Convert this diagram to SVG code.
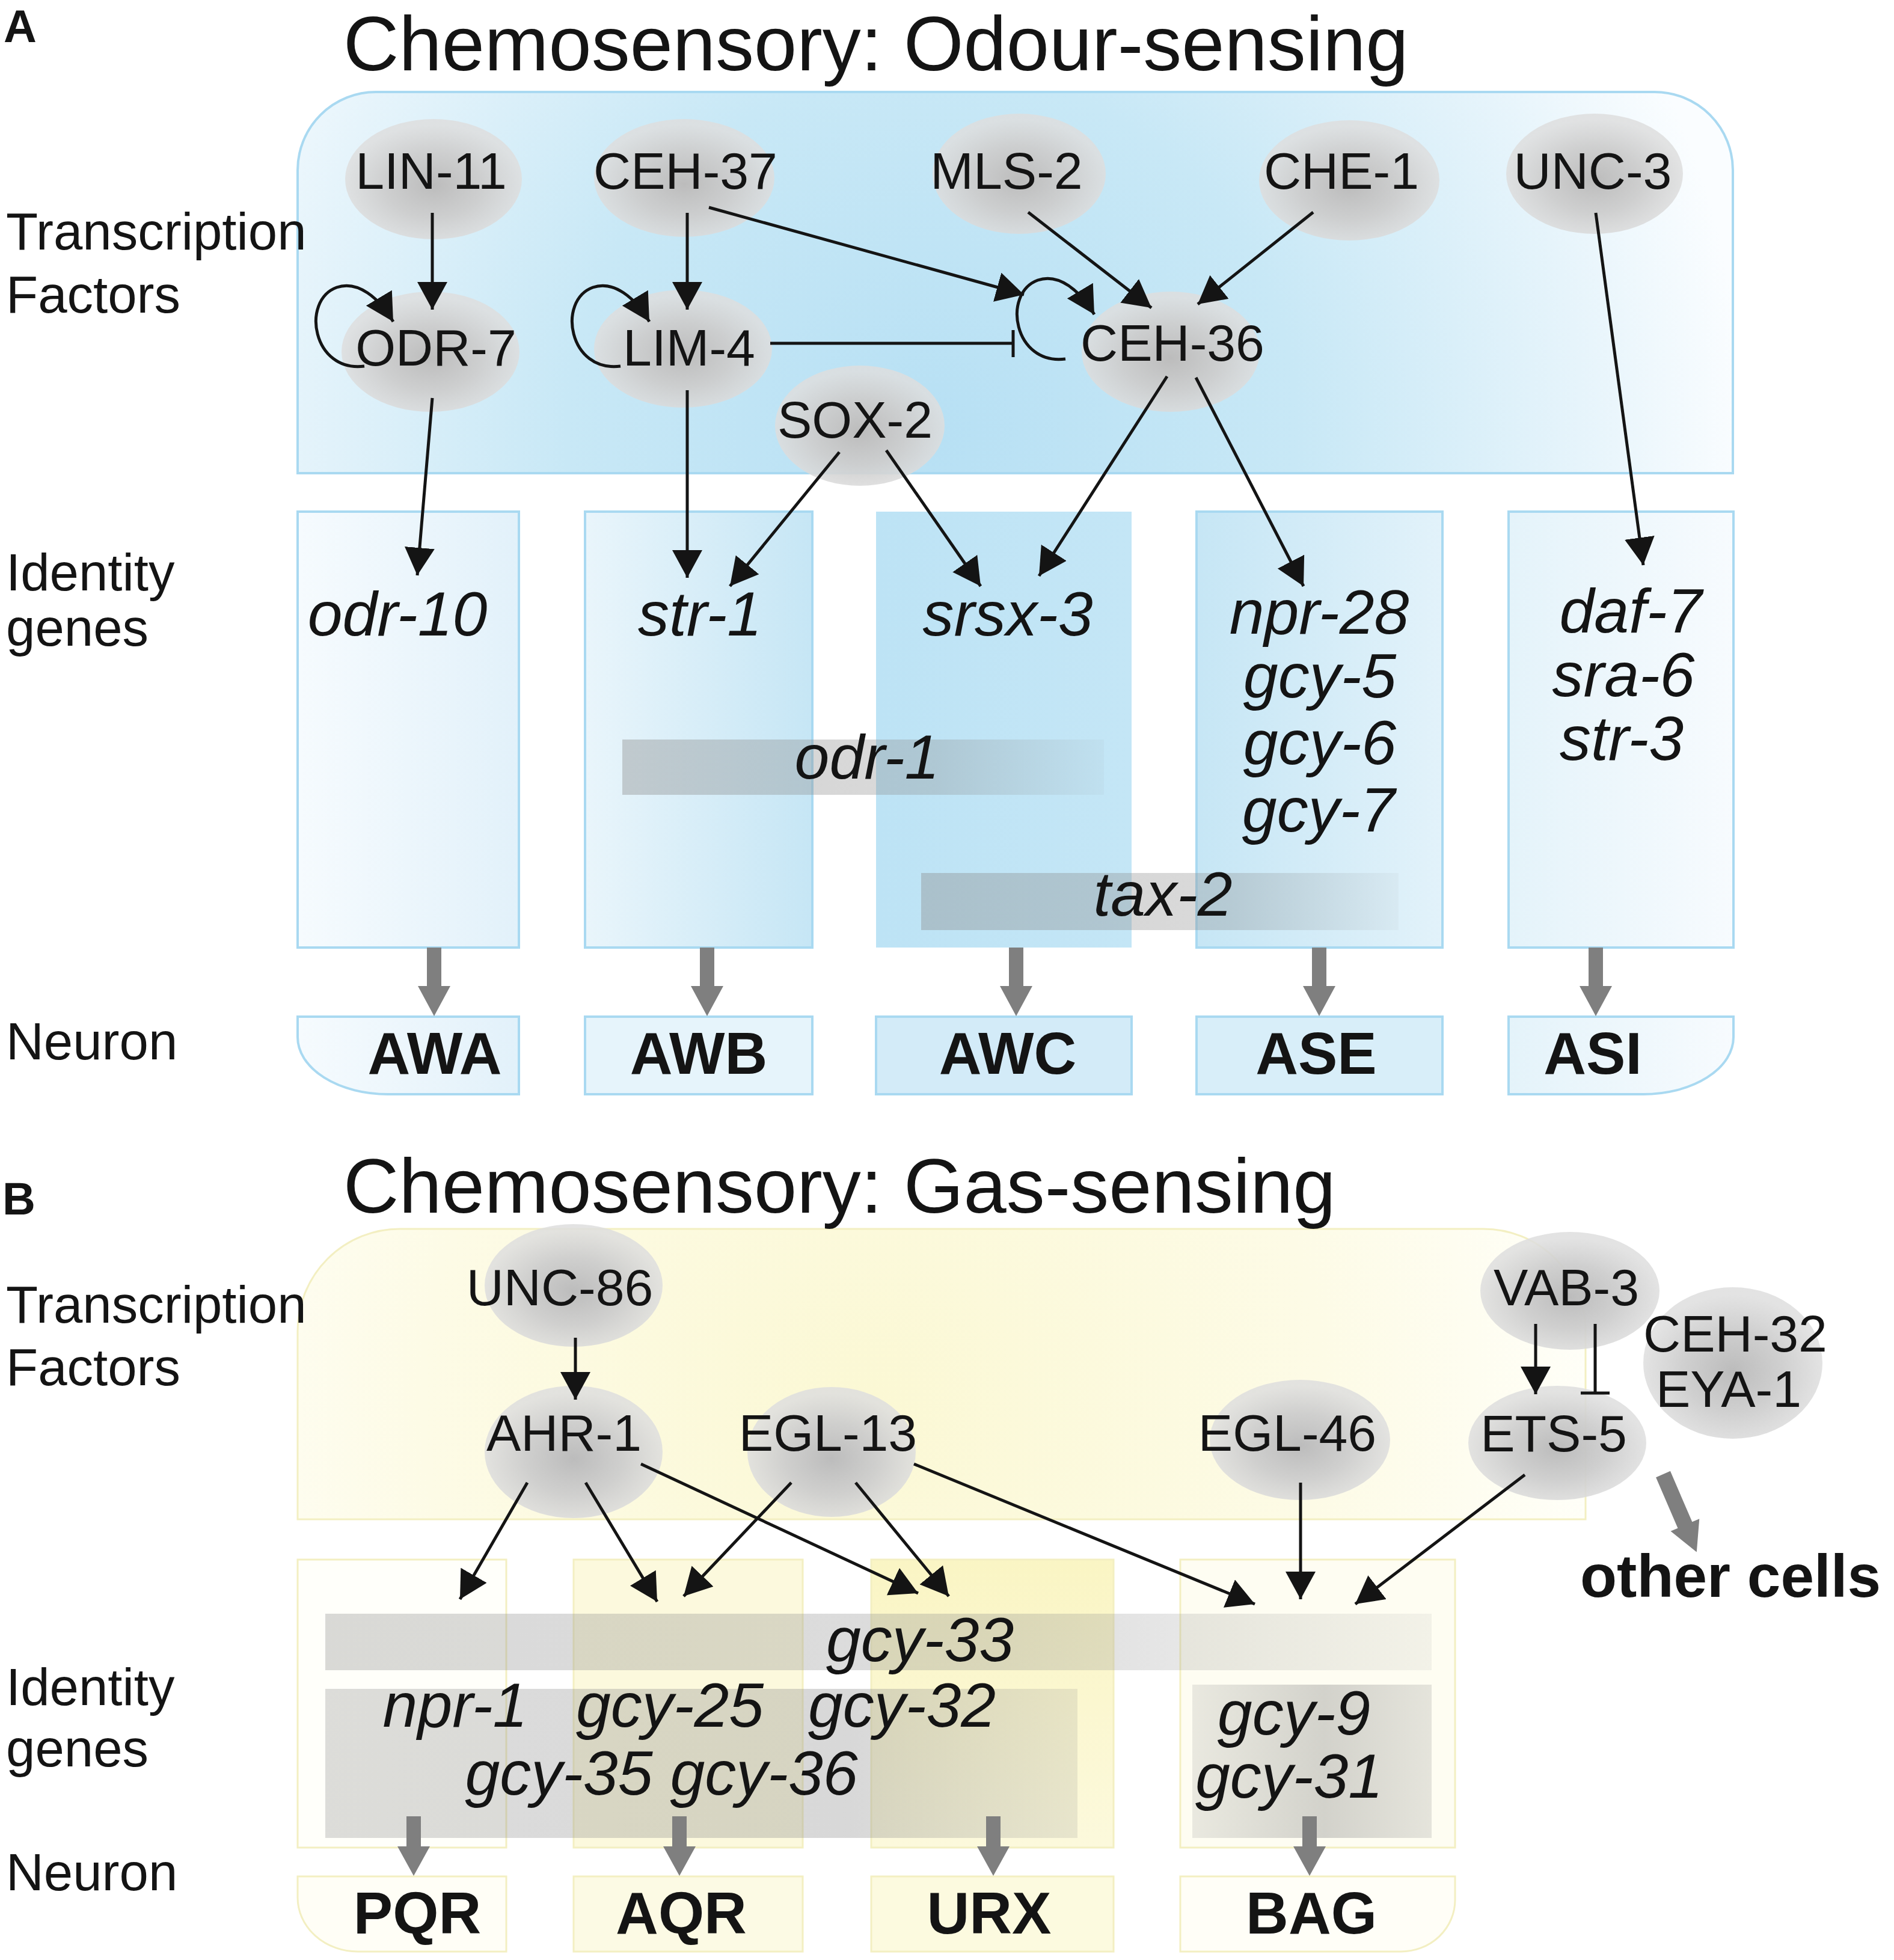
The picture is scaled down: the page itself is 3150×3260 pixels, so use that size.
<svg xmlns="http://www.w3.org/2000/svg" width="3150" height="3260" viewBox="0 0 3150 3260">
<style>
.t{font-family:"Liberation Sans",Arial,sans-serif;fill:#141414}
.tf{font-size:86px;text-anchor:middle}
.row{font-size:87px}
.gene{font-size:104px;font-style:italic;text-anchor:middle}
.neu{font-size:98px;font-weight:bold;text-anchor:middle}
.title{font-size:128px}
.panel{font-size:76px;font-weight:bold}
.edge{stroke:#141414;stroke-width:5;fill:none}
.arr{marker-end:url(#ah)}
.bA{stroke:#a9d9f1;stroke-width:4}
.bB{stroke:#f3efc2;stroke-width:3}
.gbar{stroke:none}
.garrow{fill:#7f7f7f}
</style>
<defs>
<marker id="ah" viewBox="0 0 46 50" refX="46" refY="25" markerWidth="46" markerHeight="50" markerUnits="userSpaceOnUse" orient="auto">
<path d="M0,0 L46,25 L0,50 Z" fill="#141414"/>
</marker>
<radialGradient id="tfg" cx="50%" cy="55%" r="50%">
<stop offset="0" stop-color="#bcbcbc" stop-opacity="1"/>
<stop offset="0.55" stop-color="#cdcdcd" stop-opacity="0.95"/>
<stop offset="1" stop-color="#dedede" stop-opacity="0.85"/>
</radialGradient>
<radialGradient id="topA" gradientUnits="userSpaceOnUse" cx="1550" cy="720" r="1350">
<stop offset="0" stop-color="#b7e0f4"/>
<stop offset="0.45" stop-color="#c8e8f6"/>
<stop offset="0.8" stop-color="#e6f4fb"/>
<stop offset="1" stop-color="#fafdff"/>
</radialGradient>
<radialGradient id="topB" gradientUnits="userSpaceOnUse" cx="1450" cy="2330" r="1250">
<stop offset="0" stop-color="#fbf8d4"/>
<stop offset="0.6" stop-color="#fdfbe6"/>
<stop offset="1" stop-color="#fffffa"/>
</radialGradient>
<linearGradient id="cAWA" x1="0" x2="1" y1="0" y2="0"><stop offset="0" stop-color="#f6fbfe"/><stop offset="1" stop-color="#e2f1fa"/></linearGradient>
<linearGradient id="cAWB" x1="0" x2="1" y1="0" y2="0"><stop offset="0" stop-color="#e9f5fb"/><stop offset="1" stop-color="#c6e6f5"/></linearGradient>
<linearGradient id="cAWC" x1="0" x2="1" y1="0" y2="0"><stop offset="0" stop-color="#bde3f5"/><stop offset="1" stop-color="#c4e6f6"/></linearGradient>
<linearGradient id="cASE" x1="0" x2="1" y1="0" y2="0"><stop offset="0" stop-color="#c6e6f5"/><stop offset="1" stop-color="#e2f2fa"/></linearGradient>
<linearGradient id="cASI" x1="0" x2="1" y1="0" y2="0"><stop offset="0" stop-color="#e4f3fa"/><stop offset="1" stop-color="#f7fbfe"/></linearGradient>
<linearGradient id="cURX" x1="0" x2="0" y1="0" y2="1"><stop offset="0" stop-color="#faf5c4"/><stop offset="1" stop-color="#fcf9dc"/></linearGradient>
<linearGradient id="barFade" x1="0" x2="1" y1="0" y2="0"><stop offset="0" stop-color="#8c8c8c" stop-opacity="0.4"/><stop offset="0.65" stop-color="#8c8c8c" stop-opacity="0.32"/><stop offset="1" stop-color="#8c8c8c" stop-opacity="0.06"/></linearGradient>
<linearGradient id="bar33" x1="0" x2="1" y1="0" y2="0"><stop offset="0" stop-color="#8c8c8c" stop-opacity="0.33"/><stop offset="0.6" stop-color="#8c8c8c" stop-opacity="0.3"/><stop offset="1" stop-color="#8c8c8c" stop-opacity="0.1"/></linearGradient>
<linearGradient id="bar2" x1="0" x2="1" y1="0" y2="0"><stop offset="0" stop-color="#8c8c8c" stop-opacity="0.3"/><stop offset="0.7" stop-color="#8c8c8c" stop-opacity="0.34"/><stop offset="1" stop-color="#8c8c8c" stop-opacity="0.18"/></linearGradient>
<linearGradient id="barBAG" x1="0" x2="1" y1="0" y2="0"><stop offset="0" stop-color="#8c8c8c" stop-opacity="0.18"/><stop offset="0.55" stop-color="#8c8c8c" stop-opacity="0.38"/><stop offset="1" stop-color="#8c8c8c" stop-opacity="0.22"/></linearGradient>
<path id="gA" d="M-12,0 H12 V64 H27 L0,114 L-27,64 H-12 Z"/>
<path id="gB" d="M-12,0 H12 V50 H27 L0,99 L-27,50 H-12 Z"/>
<path id="loop" d="M0,0 C-86,11 -106,-109 -46,-131 C-11,-143 24,-114 48,-74"/>
</defs>
<rect width="3150" height="3260" fill="#ffffff"/>

<!-- ================= PANEL A ================= -->
<g id="A-tf-box">
<path class="bA" d="M495,787 V283 A130,130 0 0 1 625,153 H2752 A130,130 0 0 1 2882,283 V787 Z" fill="url(#topA)"/>
</g>

<g id="A-columns">
<rect id="col-AWA" class="bA" x="495" y="851" width="368" height="725" fill="url(#cAWA)"/>
<rect id="col-AWB" class="bA" x="973" y="851" width="378" height="725" fill="url(#cAWB)"/>
<rect id="col-AWC" x="1457" y="851" width="425" height="725" fill="url(#cAWC)"/>
<rect id="col-ASE" class="bA" x="1990" y="851" width="409" height="725" fill="url(#cASE)"/>
<rect id="col-ASI" class="bA" x="2509" y="851" width="374" height="725" fill="url(#cASI)"/>
</g>

<g id="A-bars">
<rect id="bar-odr1" class="gbar" x="1035" y="1230" width="801" height="92" fill="url(#barFade)"/>
<rect id="bar-tax2" class="gbar" x="1532" y="1452" width="794" height="95" fill="url(#barFade)"/>
</g>

<g id="panelA-labels">
<text class="t panel" x="6" y="70">A</text>
<text class="t title" x="571" y="117">Chemosensory: Odour-sensing</text>
<text class="t row" x="10" y="415">Transcription</text>
<text class="t row" x="10" y="520">Factors</text>
<text class="t row" x="10" y="982">Identity</text>
<text class="t row" x="10" y="1074">genes</text>
<text class="t row" x="10" y="1762">Neuron</text>
</g>

<g id="A-genes">
<text class="t gene" x="661" y="1057">odr-10</text>
<text class="t gene" x="1164" y="1057">str-1</text>
<text class="t gene" x="1676" y="1057">srsx-3</text>
<text class="t gene" x="2194" y="1054">npr-28</text>
<text class="t gene" x="2195" y="1160">gcy-5</text>
<text class="t gene" x="2195" y="1271">gcy-6</text>
<text class="t gene" x="2193" y="1383">gcy-7</text>
<text class="t gene" x="2712" y="1052">daf-7</text>
<text class="t gene" x="2700" y="1158">sra-6</text>
<text class="t gene" x="2697" y="1264">str-3</text>
<text class="t gene" x="1442" y="1295">odr-1</text>
<text class="t gene" x="1934" y="1523">tax-2</text>
</g>

<g id="A-neurons">
<g id="AWA"><path class="bA" d="M495,1691 H863 V1820 H645 A150,95 0 0 1 495,1725 Z" fill="url(#cAWA)"/><text class="t neu" x="723" y="1786">AWA</text></g>
<g id="AWB"><rect class="bA" x="973" y="1691" width="378" height="129" fill="#e6f4fb"/><text class="t neu" x="1162" y="1786">AWB</text></g>
<g id="AWC"><rect class="bA" x="1457" y="1691" width="425" height="129" fill="#d3ebf8"/><text class="t neu" x="1676" y="1786">AWC</text></g>
<g id="ASE"><rect class="bA" x="1990" y="1691" width="409" height="129" fill="#d8eef9"/><text class="t neu" x="2189" y="1786">ASE</text></g>
<g id="ASI"><path class="bA" d="M2509,1691 H2883 V1725 A150,95 0 0 1 2733,1820 H2509 Z" fill="url(#cASI)"/><text class="t neu" x="2649" y="1786">ASI</text></g>
</g>

<g id="A-tf-nodes">
<g id="LIN-11"><ellipse cx="721" cy="298" rx="147" ry="100" fill="url(#tfg)"/><text class="t tf" x="717" y="314">LIN-11</text></g>
<g id="CEH-37"><ellipse cx="1138" cy="296" rx="150" ry="98" fill="url(#tfg)"/><text class="t tf" x="1140" y="314">CEH-37</text></g>
<g id="MLS-2"><ellipse cx="1695" cy="289" rx="144" ry="100" fill="url(#tfg)"/><text class="t tf" x="1674" y="314">MLS-2</text></g>
<g id="CHE-1"><ellipse cx="2244" cy="300" rx="150" ry="100" fill="url(#tfg)"/><text class="t tf" x="2231" y="314">CHE-1</text></g>
<g id="UNC-3"><ellipse cx="2652" cy="289" rx="147" ry="100" fill="url(#tfg)"/><text class="t tf" x="2649" y="314">UNC-3</text></g>
<g id="ODR-7"><ellipse cx="716" cy="585" rx="148" ry="100" fill="url(#tfg)"/><text class="t tf" x="725" y="608">ODR-7</text></g>
<g id="LIM-4"><ellipse cx="1136" cy="580" rx="148" ry="98" fill="url(#tfg)"/><text class="t tf" x="1146" y="608">LIM-4</text></g>
<g id="CEH-36"><ellipse cx="1947" cy="585" rx="148" ry="100" fill="url(#tfg)"/><text class="t tf" x="1950" y="600">CEH-36</text></g>
<g id="SOX-2"><ellipse cx="1430" cy="708" rx="141" ry="100" fill="url(#tfg)"/><text class="t tf" x="1422" y="728">SOX-2</text></g>
</g>

<g id="A-connectors">
<line class="edge arr" x1="719" y1="354" x2="719" y2="515"/>
<line class="edge arr" x1="1143" y1="354" x2="1143" y2="515"/>
<line class="edge arr" x1="1179" y1="345" x2="1703" y2="490"/>
<line class="edge arr" x1="1710" y1="353" x2="1915" y2="512"/>
<line class="edge arr" x1="2184" y1="353" x2="1992" y2="506"/>
<line class="edge" x1="1281" y1="571" x2="1685" y2="571"/>
<line class="edge" x1="1685" y1="549" x2="1685" y2="594"/>
<line class="edge arr" x1="2654" y1="354" x2="2733" y2="940"/>
<line class="edge arr" x1="719" y1="662" x2="694" y2="957"/>
<line class="edge arr" x1="1143" y1="649" x2="1143" y2="961"/>
<line class="edge arr" x1="1396" y1="752" x2="1214" y2="975"/>
<line class="edge arr" x1="1474" y1="749" x2="1631" y2="975"/>
<line class="edge arr" x1="1941" y1="626" x2="1728" y2="958"/>
<line class="edge arr" x1="1989" y1="628" x2="2168" y2="975"/>
<use href="#loop" class="edge arr" transform="translate(606,609)"/>
<use href="#loop" class="edge arr" transform="translate(1032,609)"/>
<use href="#loop" class="edge arr" transform="translate(1772,597)"/>
<use href="#gA" class="garrow" transform="translate(722,1576)"/>
<use href="#gA" class="garrow" transform="translate(1176,1576)"/>
<use href="#gA" class="garrow" transform="translate(1690,1576)"/>
<use href="#gA" class="garrow" transform="translate(2194,1576)"/>
<use href="#gA" class="garrow" transform="translate(2654,1576)"/>
</g>

<!-- ================= PANEL B ================= -->
<g id="B-tf-box">
<path class="bB" d="M495,2527 V2214 A170,170 0 0 1 665,2044 H2467 A170,170 0 0 1 2637,2214 V2527 Z" fill="url(#topB)"/>
</g>

<g id="B-columns">
<rect id="col-PQR" class="bB" x="495" y="2594" width="347" height="479" fill="#fffffa"/>
<rect id="col-AQR" class="bB" x="954" y="2594" width="381" height="479" fill="#fcf9dd"/>
<rect id="col-URX" class="bB" x="1449" y="2594" width="403" height="479" fill="url(#cURX)"/>
<rect id="col-BAG" class="bB" x="1963" y="2594" width="457" height="479" fill="#fefdf2"/>
</g>

<g id="B-bars">
<rect class="gbar" x="541" y="2684" width="1840" height="94" fill="url(#bar33)"/>
<rect class="gbar" x="541" y="2809" width="1251" height="248" fill="url(#bar2)"/>
<rect class="gbar" x="1983" y="2802" width="398" height="255" fill="url(#barBAG)"/>
</g>

<g id="panelB-labels">
<text class="t panel" x="4" y="2020">B</text>
<text class="t title" x="571" y="2017">Chemosensory: Gas-sensing</text>
<text class="t row" x="10" y="2200">Transcription</text>
<text class="t row" x="10" y="2304">Factors</text>
<text class="t row" x="10" y="2836">Identity</text>
<text class="t row" x="10" y="2938">genes</text>
<text class="t row" x="10" y="3144">Neuron</text>
</g>

<g id="B-genes">
<text class="t gene" x="1530" y="2763">gcy-33</text>
<text class="t gene" x="757" y="2872">npr-1</text>
<text class="t gene" x="1114" y="2872">gcy-25</text>
<text class="t gene" x="1500" y="2872">gcy-32</text>
<text class="t gene" x="1100" y="2985">gcy-35 gcy-36</text>
<text class="t gene" x="2152" y="2885">gcy-9</text>
<text class="t gene" x="2144" y="2990">gcy-31</text>
</g>

<g id="B-neurons">
<g id="PQR"><path class="bB" d="M495,3121 H842 V3246 H595 A100,90 0 0 1 495,3156 Z" fill="#fffef6"/><text class="t neu" x="694" y="3216">PQR</text></g>
<g id="AQR"><rect class="bB" x="954" y="3121" width="381" height="125" fill="#fcfae4"/><text class="t neu" x="1133" y="3216">AQR</text></g>
<g id="URX"><rect class="bB" x="1449" y="3121" width="403" height="125" fill="#fcfadf"/><text class="t neu" x="1645" y="3216">URX</text></g>
<g id="BAG"><path class="bB" d="M1963,3121 H2420 V3160 A90,86 0 0 1 2330,3246 H1963 Z" fill="#fffef7"/><text class="t neu" x="2181" y="3216">BAG</text></g>
</g>

<g id="B-tf-nodes">
<g id="UNC-86"><ellipse cx="954" cy="2138" rx="148" ry="102" fill="url(#tfg)"/><text class="t tf" x="931" y="2171">UNC-86</text></g>
<g id="AHR-1"><ellipse cx="954" cy="2415" rx="148" ry="110" fill="url(#tfg)"/><text class="t tf" x="938" y="2413">AHR-1</text></g>
<g id="EGL-13"><ellipse cx="1383" cy="2415" rx="140" ry="108" fill="url(#tfg)"/><text class="t tf" x="1377" y="2413">EGL-13</text></g>
<g id="EGL-46"><ellipse cx="2162" cy="2395" rx="150" ry="100" fill="url(#tfg)"/><text class="t tf" x="2141" y="2413">EGL-46</text></g>
<g id="VAB-3"><ellipse cx="2611" cy="2147" rx="149" ry="98" fill="url(#tfg)"/><text class="t tf" x="2605" y="2171">VAB-3</text></g>
<g id="ETS-5"><ellipse cx="2590" cy="2400" rx="148" ry="95" fill="url(#tfg)"/><text class="t tf" x="2584" y="2414">ETS-5</text></g>
<g id="CEH-32-EYA-1"><ellipse cx="2882" cy="2267" rx="149" ry="126" fill="url(#tfg)"/><text class="t tf" x="2886" y="2248">CEH-32</text><text class="t tf" x="2875" y="2340">EYA-1</text></g>
</g>

<g id="other-cells"><text class="t" x="2628" y="2656" style="font-size:100px;font-weight:bold">other cells</text></g>

<g id="B-connectors">
<line class="edge arr" x1="957" y1="2225" x2="957" y2="2328"/>
<line class="edge arr" x1="877" y1="2466" x2="765" y2="2660"/>
<line class="edge arr" x1="974" y1="2466" x2="1093" y2="2664"/>
<line class="edge arr" x1="1316" y1="2466" x2="1137" y2="2655"/>
<line class="edge arr" x1="1066" y1="2435" x2="1527" y2="2650"/>
<line class="edge arr" x1="1423" y1="2466" x2="1578" y2="2655"/>
<line class="edge arr" x1="1520" y1="2435" x2="2087" y2="2668"/>
<line class="edge arr" x1="2163" y1="2466" x2="2163" y2="2660"/>
<line class="edge arr" x1="2536" y1="2453" x2="2254" y2="2668"/>
<line class="edge arr" x1="2554" y1="2202" x2="2554" y2="2319"/>
<line class="edge" x1="2653" y1="2202" x2="2653" y2="2317"/>
<line class="edge" x1="2629" y1="2317" x2="2677" y2="2317"/>
<path class="garrow" d="M-13,0 H13 V92 H26 L0,141 L-26,92 H-13 Z" transform="translate(2766,2452) rotate(-23.3)"/>
<use href="#gB" class="garrow" transform="translate(688,3021)"/>
<use href="#gB" class="garrow" transform="translate(1130,3021)"/>
<use href="#gB" class="garrow" transform="translate(1652,3021)"/>
<use href="#gB" class="garrow" transform="translate(2178,3021)"/>
</g>
</svg>
